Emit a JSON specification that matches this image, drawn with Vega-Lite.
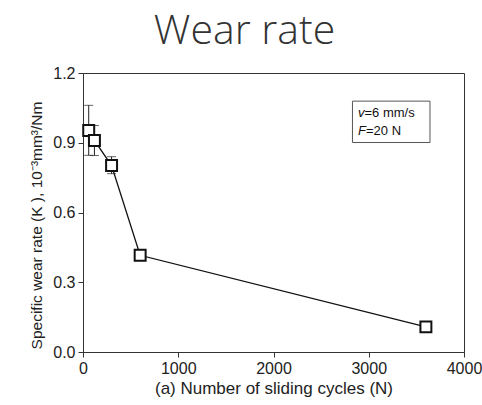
{
  "$schema": "https://vega.github.io/schema/vega-lite/v6.json",
  "autosize": {"type": "none"},
  "width": 381,
  "height": 279,
  "padding": {"left": 83, "top": 73, "right": 18, "bottom": 53},
  "background": "white",
  "title": {
    "text": "Wear rate",
    "font": "Open Sans",
    "fontWeight": 300,
    "fontSize": 41,
    "color": "#333333",
    "anchor": "middle",
    "frame": "group",
    "dx": -29,
    "offset": 12
  },
  "config": {
    "view": {"stroke": "#333333", "strokeWidth": 1},
    "axis": {
      "labelFont": "Liberation Sans",
      "titleFont": "Liberation Sans",
      "labelFontSize": 16,
      "titleFontSize": 15.5,
      "titleFontWeight": "normal",
      "labelColor": "#222222",
      "titleColor": "#222222",
      "domainColor": "#333333",
      "tickColor": "#333333",
      "grid": false,
      "tickSize": 5
    }
  },
  "data": {
    "values": [
      {"N": 60, "K": 0.953, "lo": 0.846, "hi": 1.061},
      {"N": 120, "K": 0.910, "lo": 0.845, "hi": 0.974},
      {"N": 300, "K": 0.802, "lo": 0.767, "hi": 0.840},
      {"N": 600, "K": 0.416, "lo": 0.406, "hi": 0.426},
      {"N": 3600, "K": 0.108, "lo": 0.098, "hi": 0.118}
    ]
  },
  "layer": [
    {
      "mark": {"type": "rule", "color": "#222222", "strokeWidth": 1},
      "encoding": {
        "x": {"field": "N", "type": "quantitative", "scale": {"domain": [0, 4000]},
          "axis": {"values": [0, 1000, 2000, 3000, 4000], "format": "d", "title": "(a) Number of sliding cycles (N)", "titleFontSize": 17, "titlePadding": 4, "labelPadding": 3, "labelFlush": false}},
        "y": {"field": "lo", "type": "quantitative", "scale": {"domain": [0, 1.2]},
          "axis": {"values": [0, 0.3, 0.6, 0.9, 1.2], "format": ".1f", "title": "Specific wear rate (K ), 10⁻³mm³/Nm", "titlePadding": 8, "labelPadding": 3, "titleY": 152}},
        "y2": {"field": "hi"}
      }
    },
    {
      "mark": {"type": "tick", "orient": "horizontal", "size": 9, "color": "#222222", "thickness": 1},
      "encoding": {
        "x": {"field": "N", "type": "quantitative"},
        "y": {"field": "lo", "type": "quantitative"}
      }
    },
    {
      "mark": {"type": "tick", "orient": "horizontal", "size": 9, "color": "#222222", "thickness": 1},
      "encoding": {
        "x": {"field": "N", "type": "quantitative"},
        "y": {"field": "hi", "type": "quantitative"}
      }
    },
    {
      "mark": {"type": "line", "color": "#111111", "strokeWidth": 1.3},
      "encoding": {
        "x": {"field": "N", "type": "quantitative"},
        "y": {"field": "K", "type": "quantitative"}
      }
    },
    {
      "mark": {"type": "point", "shape": "square", "size": 120, "filled": false, "fill": "white", "fillOpacity": 1, "stroke": "#111111", "strokeWidth": 2, "opacity": 1},
      "encoding": {
        "x": {"field": "N", "type": "quantitative"},
        "y": {"field": "K", "type": "quantitative"}
      }
    },
    {
      "data": {"values": [{"x1": 2829, "x2": 3643, "y1": 1.079, "y2": 0.901}]},
      "mark": {"type": "rect", "fill": "white", "stroke": "#555555", "strokeWidth": 1},
      "encoding": {
        "x": {"field": "x1", "type": "quantitative"},
        "x2": {"field": "x2"},
        "y": {"field": "y1", "type": "quantitative"},
        "y2": {"field": "y2"}
      }
    },
    {
      "data": {"values": [{"x": 2887, "y": 1.026, "t": "v"}, {"x": 2887, "y": 0.950, "t": "F"}]},
      "mark": {"type": "text", "font": "Liberation Sans", "fontSize": 13, "fontWeight": "normal", "fontStyle": "italic", "align": "left", "baseline": "middle", "color": "#111111"},
      "encoding": {
        "x": {"field": "x", "type": "quantitative"},
        "y": {"field": "y", "type": "quantitative"},
        "text": {"field": "t"}
      }
    },
    {
      "data": {"values": [{"x": 2887, "y": 1.026, "t": "=6 mm/s"}]},
      "mark": {"type": "text", "font": "Liberation Sans", "fontSize": 13, "fontWeight": "normal", "align": "left", "baseline": "middle", "color": "#111111", "dx": 6.5},
      "encoding": {
        "x": {"field": "x", "type": "quantitative"},
        "y": {"field": "y", "type": "quantitative"},
        "text": {"field": "t"}
      }
    },
    {
      "data": {"values": [{"x": 2887, "y": 0.950, "t": "=20 N"}]},
      "mark": {"type": "text", "font": "Liberation Sans", "fontSize": 13, "fontWeight": "normal", "align": "left", "baseline": "middle", "color": "#111111", "dx": 8},
      "encoding": {
        "x": {"field": "x", "type": "quantitative"},
        "y": {"field": "y", "type": "quantitative"},
        "text": {"field": "t"}
      }
    }
  ]
}
